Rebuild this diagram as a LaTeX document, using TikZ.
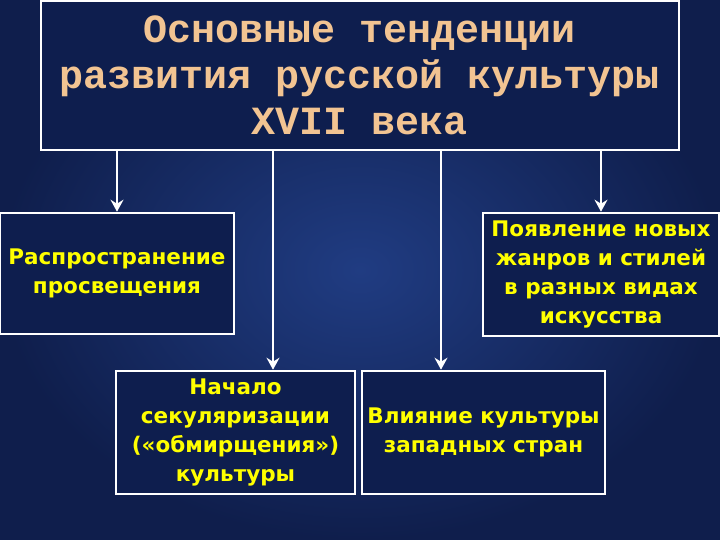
\documentclass[tikz,border=0pt]{standalone}
\usepackage{fontspec}
\setmainfont{DejaVu Sans}
\newfontfamily\titlefont{Liberation Mono}
\usetikzlibrary{arrows.meta}

\definecolor{bgin}{RGB}{32,60,130}
\definecolor{bgout}{RGB}{15,30,76}
\definecolor{boxfill}{RGB}{14,30,78}
\definecolor{titletext}{RGB}{242,196,146}
\definecolor{boxtext}{RGB}{255,255,0}

\tikzset{
    topicbox/.style={draw=white, line width=2.6pt, fill=boxfill,
        text=boxtext, align=center, inner sep=0pt,
        font=\fontsize{21.5}{29}\selectfont\bfseries},
    headbox/.style={draw=white, line width=2.6pt, fill=boxfill,
        text=titletext, align=center, inner sep=0pt,
        font=\titlefont\fontsize{40}{46}\selectfont\bfseries},
    link/.style={->, draw=white, line width=2.6pt}
}

\begin{document}
\begin{tikzpicture}[x=1pt, y=-1pt, >={Stealth[length=12pt, width=13pt, inset=4pt]}]
    \useasboundingbox (0,0) rectangle (720,540);
    \shade[inner color=bgin, outer color=bgout] (0,0) rectangle (720,540);

    \node[headbox, minimum width=638pt, minimum height=149pt] (title) at (360,75.5)
        {Основные тенденции\\развития русской культуры\\XVII века};

    \node[topicbox, minimum width=234pt, minimum height=121pt] (enlight) at (117,273.5)
        {Распространение\\просвещения};
    \node[topicbox, minimum width=236pt, minimum height=123pt] (genres) at (601,274.5)
        {Появление новых\\жанров и стилей\\в разных видах\\искусства};
    \node[topicbox, minimum width=239pt, minimum height=123pt] (secular) at (235.5,432.5)
        {Начало\\секуляризации\\(«обмирщения»)\\культуры};
    \node[topicbox, minimum width=243pt, minimum height=123pt] (west) at (483.5,432.5)
        {Влияние культуры\\западных стран};

    \coordinate (secin) at ([xshift=37.5pt]secular.north);
    \coordinate (westin) at ([xshift=-42.5pt]west.north);

    \draw[link] (title.south -| enlight.north) -- (enlight.north);
    \draw[link] (title.south -| secin) -- (secin);
    \draw[link] (title.south -| westin) -- (westin);
    \draw[link] (title.south -| genres.north) -- (genres.north);
\end{tikzpicture}
\end{document}
